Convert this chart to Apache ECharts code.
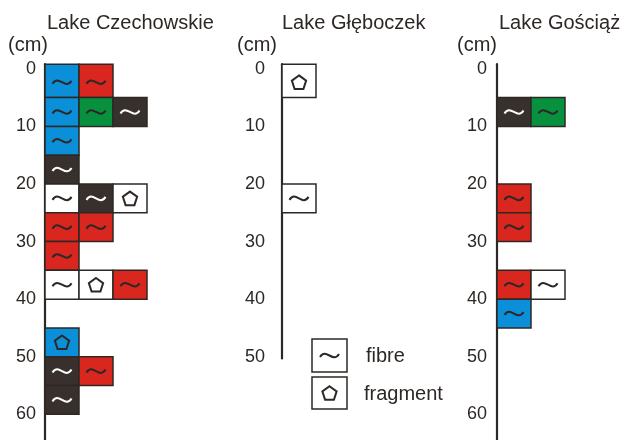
<!DOCTYPE html>
<html><head><meta charset="utf-8">
<script src="https://cdn.jsdelivr.net/npm/echarts@6/dist/echarts.min.js"></script>
<style>html,body{margin:0;padding:0;background:#fff}#c{width:620px;height:440px}</style>
</head><body><div id="c"></div>
<script>
// ---- data ----
const lakeNames = ["Lake Czechowskie", "Lake Głęboczek", "Lake Gościąż"];
const depthUnit = "(cm)";
const layerThickness = 5;
const longTickLabels = [0, 10, 20, 30, 40, 50, 60];
const shortTickLabels = [0, 10, 20, 30, 40, 50];
const longCoreDepth = 64.5;
const shortCoreDepth = 50.3;

const czechowskieDepths = [0, 5, 10, 15, 20, 25, 30, 35, 45, 50, 55];
const czechowskieColours = [
  ["blue", "red"], ["blue", "green", "black"], ["blue"], ["black"],
  ["white", "black", "white"], ["red", "red"], ["red"],
  ["white", "white", "red"], ["blue"], ["black", "red"], ["black"]
];
const czechowskieTypes = [
  ["fibre", "fibre"], ["fibre", "fibre", "fibre"], ["fibre"], ["fibre"],
  ["fibre", "fibre", "fragment"], ["fibre", "fibre"], ["fibre"],
  ["fibre", "fragment", "fibre"], ["fragment"], ["fibre", "fibre"], ["fibre"]
];

const gleboczekDepths = [0, 20];
const gleboczekColours = [["white"], ["white"]];
const gleboczekTypes = [["fragment"], ["fibre"]];

const gosciazDepths = [5, 20, 25, 35, 40];
const gosciazColours = [["black", "green"], ["red"], ["red"], ["red", "white"], ["blue"]];
const gosciazTypes = [["fibre", "fibre"], ["fibre"], ["fibre"], ["fibre", "fibre"], ["fibre"]];

const legendLabels = ["fibre", "fragment"];

// ---- styles ----
const palette = { blue: "#0b8fd8", red: "#d9261f", green: "#07903e", black: "#37302c", white: "#ffffff" };
const ink = "#2d2825";
const font = "'Liberation Sans', Arial, sans-serif";
const coreTopVisual = -0.8;
const pxPerCm = 5.758;
const gridTop = 64.2;
const colWidth = 34;

function buildCells(depths, colours, types) {
  const out = [];
  depths.forEach((d, i) => {
    colours[i].forEach((col, j) => {
      out.push({ col: j, top: d, colour: col, type: types[i][j] });
    });
  });
  return out;
}

function tildeShape(cx, cy, colour) {
  return {
    type: "bezierCurve",
    shape: { x1: cx - 9.5, y1: cy + 1.5, cpx1: cx - 3.5, cpy1: cy - 8.5, cpx2: cx + 3.5, cpy2: cy + 8.5, x2: cx + 9.5, y2: cy - 1.5 },
    style: { stroke: colour, lineWidth: 2, fill: null }
  };
}
function pentagonShape(cx, cy, colour) {
  const R = 7.5;
  const oy = cy + 0.095 * R;
  const pts = [];
  for (let k = 0; k < 5; k++) {
    const a = -Math.PI / 2 + k * 2 * Math.PI / 5;
    pts.push([cx + R * Math.cos(a), oy + R * Math.sin(a)]);
  }
  return { type: "polygon", shape: { points: pts }, style: { stroke: colour, lineWidth: 2, fill: null } };
}

function makeRender(cells) {
  return function (params, api) {
    const c = cells[params.dataIndex];
    const top = c.top === 0 ? coreTopVisual : c.top;
    const p1 = api.coord([c.col, top]);
    const p2 = api.coord([c.col + 1, c.top + layerThickness]);
    const cx = (p1[0] + p2[0]) / 2;
    const cy = (api.coord([c.col, c.top])[1] + p2[1]) / 2 + (c.top === 0 ? -1 : 0);
    const symColour = c.colour === "black" ? "#ffffff" : ink;
    const children = [{
      type: "rect",
      shape: { x: p1[0], y: p1[1], width: p2[0] - p1[0], height: p2[1] - p1[1] },
      style: { fill: palette[c.colour], stroke: ink, lineWidth: 1.5 }
    }];
    children.push(c.type === "fibre" ? tildeShape(cx, cy, symColour) : pentagonShape(cx, cy, symColour));
    return { type: "group", children: children };
  };
}

const panels = [
  { cells: buildCells(czechowskieDepths, czechowskieColours, czechowskieTypes), left: 45, max: longCoreDepth, ticks: longTickLabels, margin: 9 },
  { cells: buildCells(gleboczekDepths, gleboczekColours, gleboczekTypes), left: 282, max: shortCoreDepth, ticks: shortTickLabels, margin: 17 },
  { cells: buildCells(gosciazDepths, gosciazColours, gosciazTypes), left: 497, max: longCoreDepth, ticks: longTickLabels, margin: 10 }
];

const grids = [], xAxes = [], yAxes = [], series = [];
panels.forEach((p, i) => {
  grids.push({ left: p.left, top: gridTop, width: 3 * colWidth, height: (p.max - coreTopVisual) * pxPerCm, outerBoundsMode: "none", containLabel: false });
  xAxes.push({ gridIndex: i, type: "value", min: 0, max: 3, show: false });
  yAxes.push({
    gridIndex: i, type: "value", inverse: true, min: coreTopVisual, max: p.max,
    axisLine: { show: true, lineStyle: { color: ink, width: 2.2 } },
    axisTick: { show: false }, splitLine: { show: false },
    axisLabel: { customValues: p.ticks, margin: p.margin, fontSize: 18, color: ink, fontFamily: font }
  });
  series.push({
    type: "custom", xAxisIndex: i, yAxisIndex: i, clip: false,
    renderItem: makeRender(p.cells),
    data: p.cells.map(c => [c.col + 0.5, c.top + layerThickness / 2])
  });
});

const titleX = [47, 282, 499];
const unitX = [8, 237, 457];
const graphics = [];
lakeNames.forEach((n, i) => {
  graphics.push({ type: "text", left: titleX[i], top: 13, style: { text: n, fontSize: 20, fill: ink, fontFamily: font } });
  graphics.push({ type: "text", left: unitX[i], top: 35, style: { text: depthUnit, fontSize: 20, fill: ink, fontFamily: font } });
});
// legend
const legendBoxes = [[312, 339, 35, 33], [312, 377, 35, 32]];
const legendTextX = [366, 364];
legendLabels.forEach((lab, i) => {
  const b = legendBoxes[i];
  const cx = b[0] + b[2] / 2, cy = b[1] + b[3] / 2;
  graphics.push({ type: "rect", shape: { x: b[0], y: b[1], width: b[2], height: b[3] }, style: { fill: "#fff", stroke: ink, lineWidth: 1.5 } });
  graphics.push(i === 0 ? tildeShape(cx, cy, ink) : pentagonShape(cx, cy, ink));
  graphics.push({ type: "text", x: legendTextX[i], y: cy + 1, style: { text: lab, fontSize: 20, fill: ink, fontFamily: font, verticalAlign: "middle" } });
});

const chart = echarts.init(document.getElementById("c"), null, { renderer: "canvas" });
chart.setOption({
  animation: false,
  backgroundColor: "#ffffff",
  grid: grids, xAxis: xAxes, yAxis: yAxes, series: series,
  graphic: graphics
});
</script></body></html>
